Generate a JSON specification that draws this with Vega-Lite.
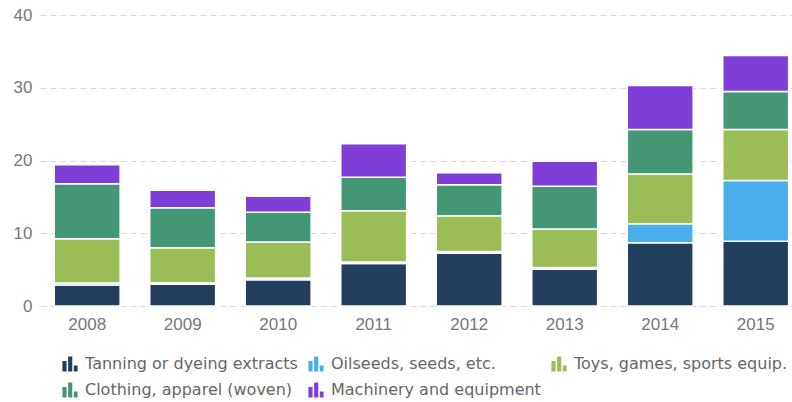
{
  "$schema": "https://vega.github.io/schema/vega-lite/v6.json",
  "autosize": "none",
  "width": 752,
  "height": 291,
  "padding": {"left": 40, "top": 15, "right": 0, "bottom": 96},
  "background": "white",
  "config": {"view": {"stroke": null}, "font": "DejaVu Sans"},
  "data": {"values": [
    {"year": "2008", "cat": "Tanning or dyeing extracts", "k": 0, "v": 2.9},
    {"year": "2008", "cat": "Oilseeds, seeds, etc.", "k": 1, "v": 0.25},
    {"year": "2008", "cat": "Toys, games, sports equip.", "k": 2, "v": 6.1},
    {"year": "2008", "cat": "Clothing, apparel (woven)", "k": 3, "v": 7.55},
    {"year": "2008", "cat": "Machinery and equipment", "k": 4, "v": 2.6},
    {"year": "2009", "cat": "Tanning or dyeing extracts", "k": 0, "v": 3.0},
    {"year": "2009", "cat": "Oilseeds, seeds, etc.", "k": 1, "v": 0.2},
    {"year": "2009", "cat": "Toys, games, sports equip.", "k": 2, "v": 4.8},
    {"year": "2009", "cat": "Clothing, apparel (woven)", "k": 3, "v": 5.5},
    {"year": "2009", "cat": "Machinery and equipment", "k": 4, "v": 2.4},
    {"year": "2010", "cat": "Tanning or dyeing extracts", "k": 0, "v": 3.6},
    {"year": "2010", "cat": "Oilseeds, seeds, etc.", "k": 1, "v": 0.25},
    {"year": "2010", "cat": "Toys, games, sports equip.", "k": 2, "v": 4.95},
    {"year": "2010", "cat": "Clothing, apparel (woven)", "k": 3, "v": 4.1},
    {"year": "2010", "cat": "Machinery and equipment", "k": 4, "v": 2.2},
    {"year": "2011", "cat": "Tanning or dyeing extracts", "k": 0, "v": 5.85},
    {"year": "2011", "cat": "Oilseeds, seeds, etc.", "k": 1, "v": 0.2},
    {"year": "2011", "cat": "Toys, games, sports equip.", "k": 2, "v": 7.05},
    {"year": "2011", "cat": "Clothing, apparel (woven)", "k": 3, "v": 4.6},
    {"year": "2011", "cat": "Machinery and equipment", "k": 4, "v": 4.6},
    {"year": "2012", "cat": "Tanning or dyeing extracts", "k": 0, "v": 7.3},
    {"year": "2012", "cat": "Oilseeds, seeds, etc.", "k": 1, "v": 0.2},
    {"year": "2012", "cat": "Toys, games, sports equip.", "k": 2, "v": 4.9},
    {"year": "2012", "cat": "Clothing, apparel (woven)", "k": 3, "v": 4.25},
    {"year": "2012", "cat": "Machinery and equipment", "k": 4, "v": 1.65},
    {"year": "2013", "cat": "Tanning or dyeing extracts", "k": 0, "v": 5.1},
    {"year": "2013", "cat": "Oilseeds, seeds, etc.", "k": 1, "v": 0.2},
    {"year": "2013", "cat": "Toys, games, sports equip.", "k": 2, "v": 5.3},
    {"year": "2013", "cat": "Clothing, apparel (woven)", "k": 3, "v": 5.85},
    {"year": "2013", "cat": "Machinery and equipment", "k": 4, "v": 3.45},
    {"year": "2014", "cat": "Tanning or dyeing extracts", "k": 0, "v": 8.7},
    {"year": "2014", "cat": "Oilseeds, seeds, etc.", "k": 1, "v": 2.6},
    {"year": "2014", "cat": "Toys, games, sports equip.", "k": 2, "v": 6.85},
    {"year": "2014", "cat": "Clothing, apparel (woven)", "k": 3, "v": 6.1},
    {"year": "2014", "cat": "Machinery and equipment", "k": 4, "v": 6.05},
    {"year": "2015", "cat": "Tanning or dyeing extracts", "k": 0, "v": 8.9},
    {"year": "2015", "cat": "Oilseeds, seeds, etc.", "k": 1, "v": 8.35},
    {"year": "2015", "cat": "Toys, games, sports equip.", "k": 2, "v": 7.0},
    {"year": "2015", "cat": "Clothing, apparel (woven)", "k": 3, "v": 5.25},
    {"year": "2015", "cat": "Machinery and equipment", "k": 4, "v": 4.95}
  ]},
  "mark": {"type": "bar", "stroke": "white", "strokeWidth": 1.5},
  "encoding": {
    "x": {
      "field": "year", "type": "ordinal", "title": null,
      "scale": {"paddingInner": 0.31, "paddingOuter": 0.092, "align": 0.81},
      "axis": {"labelAngle": 0, "ticks": false, "domain": false, "labelPadding": 10, "labelFont": "Liberation Sans", "labelFontSize": 17, "labelColor": "#777"}
    },
    "y": {
      "field": "v", "type": "quantitative", "stack": "zero", "title": null,
      "scale": {"domain": [0, 40], "nice": false},
      "axis": {"values": [0, 10, 20, 30, 40], "ticks": false, "domain": false, "labelPadding": 8, "labelFont": "Liberation Sans", "labelFontSize": 17, "labelColor": "#777", "gridColor": "#d9d9d9", "gridDash": [6, 4], "gridWidth": 1}
    },
    "color": {
      "field": "cat", "type": "nominal", "title": null,
      "scale": {
        "domain": ["Tanning or dyeing extracts", "Oilseeds, seeds, etc.", "Toys, games, sports equip.", "Clothing, apparel (woven)", "Machinery and equipment"],
        "range": ["#233f5f", "#49aeea", "#9bbd57", "#449775", "#7f3ed6"]
      },
      "legend": {
        "orient": "none", "legendX": 22, "legendY": 341, "direction": "horizontal", "columns": 3,
        "symbolType": "M-1,1V-0.4H-0.45V1Z M-0.25,1V-1H0.3V1Z M0.5,1V0.2H1V1Z",
        "symbolSize": 230, "symbolStrokeWidth": 0, "symbolOpacity": 1,
        "labelFontSize": 16, "labelColor": "#666", "labelOffset": 7, "labelLimit": 400,
        "columnPadding": 10, "rowPadding": 10, "padding": 0
      }
    },
    "order": {"field": "k", "type": "quantitative"}
  }
}
